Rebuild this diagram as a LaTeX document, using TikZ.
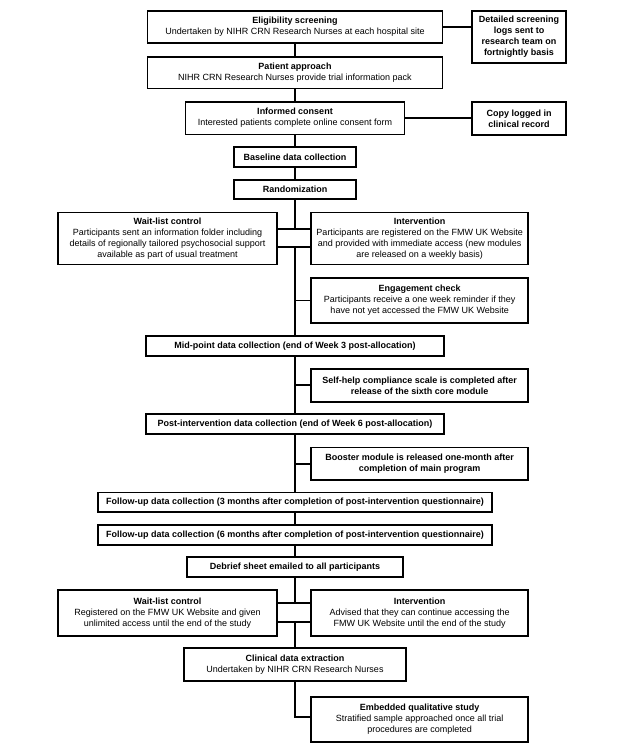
\documentclass[tikz,border=0pt]{standalone}
\usepackage{fontspec}
\setmainfont{Liberation Sans}
\begin{document}
\begin{tikzpicture}[x=1pt,y=-1pt,
  box/.style={draw, line width=1.8pt, align=center, inner sep=0pt,
    font=\fontsize{9}{11}\selectfont},
  link/.style={line width=1.7pt}]
\useasboundingbox (0,0) rectangle (625,750);
% trunk boxes
\node[box, minimum width=295pt, minimum height=32.3pt] (elig) at (295,27.1)
  {\textbf{Eligibility screening}\\Undertaken by NIHR CRN Research Nurses at each hospital site};
\node[box, minimum width=94pt, minimum height=51.7pt] (screen) at (519,36.8)
  {\textbf{Detailed screening}\\\textbf{logs sent to}\\\textbf{research team on}\\\textbf{fortnightly basis}};
\node[box, minimum width=295pt, minimum height=31.8pt] (approach) at (295,72.6)
  {\textbf{Patient approach}\\NIHR CRN Research Nurses provide trial information pack};
\node[box, minimum width=219pt, minimum height=32.8pt] (consent) at (295,118.1)
  {\textbf{Informed consent}\\Interested patients complete online consent form};
\node[box, minimum width=94pt, minimum height=33.3pt] (copy) at (519,118.3)
  {\textbf{Copy logged in}\\\textbf{clinical record}};
\node[box, minimum width=121.4pt, minimum height=19.4pt] (baseline) at (295,157)
  {\textbf{Baseline data collection}};
\node[box, minimum width=121.4pt, minimum height=19.3pt] (random) at (295,189.7)
  {\textbf{Randomization}};
\node[box, minimum width=218.4pt, minimum height=52pt] (wait1) at (167.5,238.5)
  {\textbf{Wait-list control}\\Participants sent an information folder including\\details of regionally tailored psychosocial support\\available as part of usual treatment};
\node[box, minimum width=217.3pt, minimum height=52pt] (int1) at (419.7,238.5)
  {\textbf{Intervention}\\Participants are registered on the FMW UK Website\\and provided with immediate access (new modules\\are released on a weekly basis)};
\node[box, minimum width=217.3pt, minimum height=45.6pt] (engage) at (419.7,300.5)
  {\textbf{Engagement check}\\Participants receive a one week reminder if they\\have not yet accessed the FMW UK Website};
\node[box, minimum width=297.3pt, minimum height=20pt] (mid) at (295,346)
  {\textbf{Mid-point data collection (end of Week 3 post-allocation)}};
\node[box, minimum width=217.3pt, minimum height=32.7pt] (self) at (419.7,385.3)
  {\textbf{Self-help compliance scale is completed after}\\\textbf{release of the sixth core module}};
\node[box, minimum width=297.3pt, minimum height=19.8pt] (post) at (295,424.1)
  {\textbf{Post-intervention data collection (end of Week 6 post-allocation)}};
\node[box, minimum width=217.3pt, minimum height=32.5pt] (boost) at (419.7,463.7)
  {\textbf{Booster module is released one-month after}\\\textbf{completion of main program}};
\node[box, minimum width=394.3pt, minimum height=19.5pt] (fu3) at (295,502.2)
  {\textbf{Follow-up data collection (3 months after completion of post-intervention questionnaire)}};
\node[box, minimum width=394.3pt, minimum height=19.7pt] (fu6) at (295,534.8)
  {\textbf{Follow-up data collection (6 months after completion of post-intervention questionnaire)}};
\node[box, minimum width=216.3pt, minimum height=19.9pt] (debrief) at (295,567.2)
  {\textbf{Debrief sheet emailed to all participants}};
\node[box, minimum width=218.4pt, minimum height=45.5pt] (wait2) at (167.5,613)
  {\textbf{Wait-list control}\\Registered on the FMW UK Website and given\\unlimited access until the end of the study};
\node[box, minimum width=217.3pt, minimum height=45.5pt] (int2) at (419.7,613)
  {\textbf{Intervention}\\Advised that they can continue accessing the\\FMW UK Website until the end of the study};
\node[box, minimum width=221.7pt, minimum height=32.7pt] (clinical) at (295,664.7)
  {\textbf{Clinical data extraction}\\Undertaken by NIHR CRN Research Nurses};
\node[box, minimum width=217.3pt, minimum height=44.4pt] (embed) at (419.7,719.5)
  {\textbf{Embedded qualitative study}\\Stratified sample approached once all trial\\procedures are completed};
% junction coordinates
\coordinate (s1) at (295,229);
\coordinate (m1) at (295,247.3);
\coordinate (s2) at (295,603.3);
\coordinate (m2) at (295,621.7);
\coordinate (e1) at (295,717);
% connectors
\draw[link] (elig.east) -- (elig.east -| screen.west);
\draw[link] (consent.east) -- (consent.east -| copy.west);
\draw[link] (elig.south) -- (approach.north);
\draw[link] (approach.south) -- (consent.north);
\draw[link] (consent.south) -- (baseline.north);
\draw[link] (baseline.south) -- (random.north);
\draw[link] (random.south) -- (s1);
\draw[link] (s1 -| wait1.east) -- (s1 -| int1.west);
\draw[link] (m1 -| wait1.east) -- (m1 -| int1.west);
\draw[link] (m1) -- (mid.north);
\draw[link] (engage.west -| m1) -- (engage.west);
\draw[link] (mid.south) -- (post.north);
\draw[link] (self.west -| mid.south) -- (self.west);
\draw[link] (post.south) -- (fu3.north);
\draw[link] (boost.west -| post.south) -- (boost.west);
\draw[link] (fu3.south) -- (fu6.north);
\draw[link] (fu6.south) -- (debrief.north);
\draw[link] (debrief.south) -- (s2);
\draw[link] (s2 -| wait2.east) -- (s2 -| int2.west);
\draw[link] (m2 -| wait2.east) -- (m2 -| int2.west);
\draw[link] (m2) -- (clinical.north);
\draw[link] (clinical.south) -- (e1) -- (e1 -| embed.west);
\end{tikzpicture}
\end{document}
